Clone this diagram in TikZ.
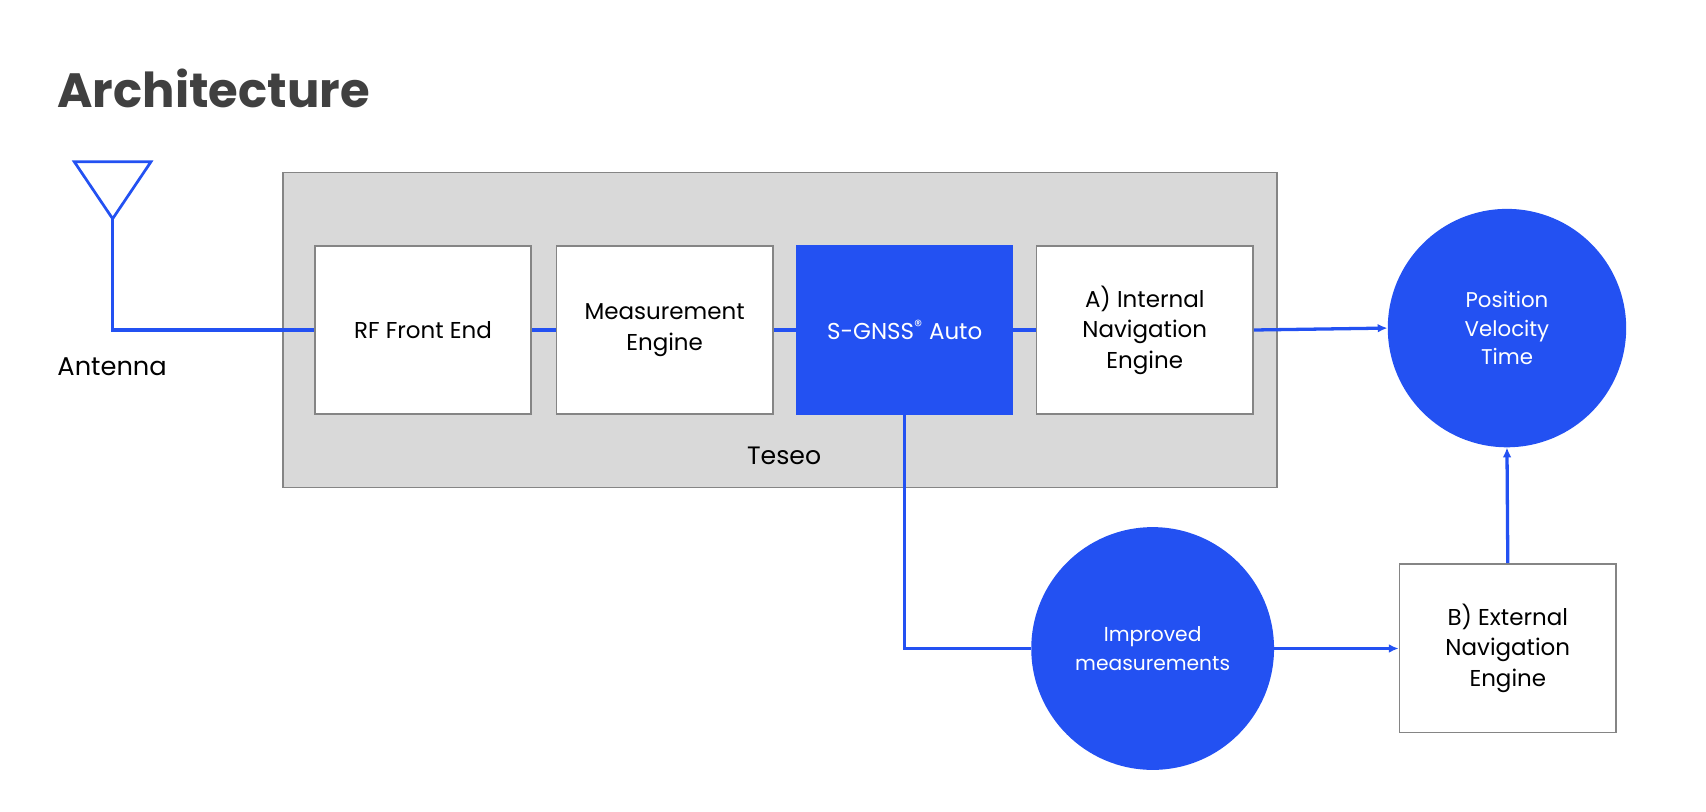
\documentclass[tikz,border=0pt]{standalone}
\usepackage{fontspec}
\setmainfont{Poppins}
\usetikzlibrary{arrows.meta}
\definecolor{bl}{HTML}{2351F2}
\definecolor{gb}{HTML}{D9D9D9}
\definecolor{gl}{HTML}{858585}
\begin{document}
\begin{tikzpicture}[x=1pt,y=-1pt,
  box/.style={draw=gl,line width=1.5pt,fill=white,minimum width=198pt,minimum height=154pt,anchor=north west,align=center,font=\fontsize{21}{28}\selectfont,inner sep=0pt},
  ln/.style={draw=bl,line width=3pt},
  ar/.style={ln,-{Latex[length=9pt,width=8pt]}},
  circ/.style={fill=bl,text=white,align=center,font=\fontsize{19.5}{26}\selectfont,inner sep=0pt}]
\useasboundingbox (0,0) rectangle (1560,742.5);
\node[anchor=base west,font=\fontsize{44}{50}\selectfont\bfseries,text=black!75] (title) at (49,98) {Architecture};
\node[draw=gl,line width=1.5pt,fill=gb,minimum width=909pt,minimum height=288pt,anchor=north west,inner sep=0pt] (teseo) at (258,157) {};
\node[font=\fontsize{23}{28}\selectfont] (tlab) at (717,417) {Teseo};
\node[box] (rf) at (287,224) {RF Front End};
\node[box] (me) at (508,224) {Measurement\\Engine};
\node[box,fill=bl,draw=bl,text=white,minimum width=197pt] (sg) at (728,224) {S-GNSS\textsuperscript{®} Auto};
\node[box] (ine) at (947,224) {A) Internal\\Navigation\\Engine};
\node[box] (ene) at (1279,515) {B) External\\Navigation\\Engine};
\node[circ,circle,minimum size=218pt] (pvt) at (1378,300) {Position\\Velocity\\Time};
\node[circ,circle,minimum size=222pt,font=\fontsize{18.5}{26}\selectfont] (imp) at (1054,593) {Improved\\measurements};
\coordinate (ant) at (103,200);
\draw[ln,line width=2.5pt] (68,148) -- (138,148) -- (ant) -- cycle;
\node[anchor=base west,font=\fontsize{23.5}{28}\selectfont] (alab) at (49,343) {Antenna};
\draw[ln] (ant) |- (rf.west);
\draw[ln] (rf.east) -- (me.west);
\draw[ln] (me.east) -- (sg.west);
\draw[ln] (sg.east) -- (ine.west);
\draw[ar] (ine.east) -- (pvt.west);
\draw[ln] (sg.south) |- (imp.west);
\draw[ar] (imp.east) -- (imp.east -| ene.west);
\draw[ar] (ene.north) -- (pvt.south);
\end{tikzpicture}
\end{document}
